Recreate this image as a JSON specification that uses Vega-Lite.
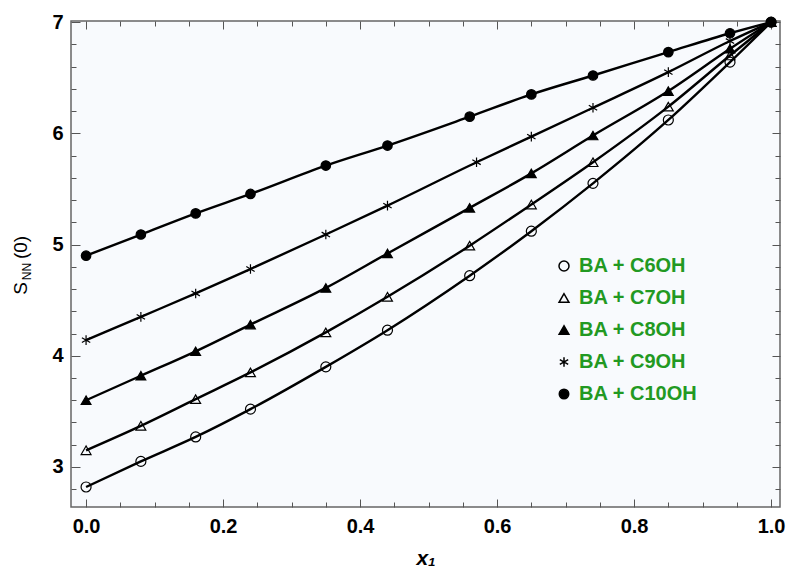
{
  "$schema": "https://vega.github.io/schema/vega-lite/v6.json",
  "width": 709,
  "height": 486,
  "autosize": "none",
  "padding": {"left": 71, "top": 21, "right": 10, "bottom": 65},
  "background": "white",
  "config": {
    "view": {"fill": "#f8fafd", "stroke": "#666666", "strokeWidth": 1.5},
    "axis": {
      "domain": false,
      "grid": false,
      "tickColor": "#555555",
      "tickWidth": 1,
      "labelFont": "Liberation Sans",
      "labelFontWeight": "bold",
      "labelFontSize": 20,
      "labelColor": "black",
      "titleFont": "Liberation Sans",
      "titleColor": "black"
    },
    "legend": {
      "orient": "none", "legendX": 483, "legendY": 235, "padding": 0,
      "labelFont": "Liberation Sans", "labelFontWeight": "bold", "labelFontSize": 20,
      "labelColor": "#229922", "labelOffset": 5, "rowPadding": 12, "labelLimit": 300
    }
  },
  "data": {
    "values": [
      {"series": "BA + C6OH", "x1": 0.0, "s": 2.82},
      {"series": "BA + C6OH", "x1": 0.08, "s": 3.05},
      {"series": "BA + C6OH", "x1": 0.16, "s": 3.27},
      {"series": "BA + C6OH", "x1": 0.24, "s": 3.52},
      {"series": "BA + C6OH", "x1": 0.35, "s": 3.9},
      {"series": "BA + C6OH", "x1": 0.44, "s": 4.23},
      {"series": "BA + C6OH", "x1": 0.56, "s": 4.72},
      {"series": "BA + C6OH", "x1": 0.65, "s": 5.12},
      {"series": "BA + C6OH", "x1": 0.74, "s": 5.55},
      {"series": "BA + C6OH", "x1": 0.85, "s": 6.12},
      {"series": "BA + C6OH", "x1": 0.94, "s": 6.64},
      {"series": "BA + C6OH", "x1": 1.0, "s": 7.0},
      {"series": "BA + C7OH", "x1": 0.0, "s": 3.15},
      {"series": "BA + C7OH", "x1": 0.08, "s": 3.37},
      {"series": "BA + C7OH", "x1": 0.16, "s": 3.61},
      {"series": "BA + C7OH", "x1": 0.24, "s": 3.85},
      {"series": "BA + C7OH", "x1": 0.35, "s": 4.21},
      {"series": "BA + C7OH", "x1": 0.44, "s": 4.53},
      {"series": "BA + C7OH", "x1": 0.56, "s": 4.99},
      {"series": "BA + C7OH", "x1": 0.65, "s": 5.36},
      {"series": "BA + C7OH", "x1": 0.74, "s": 5.74},
      {"series": "BA + C7OH", "x1": 0.85, "s": 6.24},
      {"series": "BA + C7OH", "x1": 0.94, "s": 6.7},
      {"series": "BA + C7OH", "x1": 1.0, "s": 7.0},
      {"series": "BA + C8OH", "x1": 0.0, "s": 3.6},
      {"series": "BA + C8OH", "x1": 0.08, "s": 3.82},
      {"series": "BA + C8OH", "x1": 0.16, "s": 4.04},
      {"series": "BA + C8OH", "x1": 0.24, "s": 4.28},
      {"series": "BA + C8OH", "x1": 0.35, "s": 4.61},
      {"series": "BA + C8OH", "x1": 0.44, "s": 4.92},
      {"series": "BA + C8OH", "x1": 0.56, "s": 5.33},
      {"series": "BA + C8OH", "x1": 0.65, "s": 5.64},
      {"series": "BA + C8OH", "x1": 0.74, "s": 5.98},
      {"series": "BA + C8OH", "x1": 0.85, "s": 6.38},
      {"series": "BA + C8OH", "x1": 0.94, "s": 6.76},
      {"series": "BA + C8OH", "x1": 1.0, "s": 7.0},
      {"series": "BA + C9OH", "x1": 0.0, "s": 4.14},
      {"series": "BA + C9OH", "x1": 0.08, "s": 4.35},
      {"series": "BA + C9OH", "x1": 0.16, "s": 4.56},
      {"series": "BA + C9OH", "x1": 0.24, "s": 4.78},
      {"series": "BA + C9OH", "x1": 0.35, "s": 5.09},
      {"series": "BA + C9OH", "x1": 0.44, "s": 5.35},
      {"series": "BA + C9OH", "x1": 0.57, "s": 5.74},
      {"series": "BA + C9OH", "x1": 0.65, "s": 5.97},
      {"series": "BA + C9OH", "x1": 0.74, "s": 6.23},
      {"series": "BA + C9OH", "x1": 0.85, "s": 6.55},
      {"series": "BA + C9OH", "x1": 0.94, "s": 6.83},
      {"series": "BA + C9OH", "x1": 1.0, "s": 7.0},
      {"series": "BA + C10OH", "x1": 0.0, "s": 4.9},
      {"series": "BA + C10OH", "x1": 0.08, "s": 5.09},
      {"series": "BA + C10OH", "x1": 0.16, "s": 5.28},
      {"series": "BA + C10OH", "x1": 0.24, "s": 5.455},
      {"series": "BA + C10OH", "x1": 0.35, "s": 5.71},
      {"series": "BA + C10OH", "x1": 0.44, "s": 5.89},
      {"series": "BA + C10OH", "x1": 0.56, "s": 6.15},
      {"series": "BA + C10OH", "x1": 0.65, "s": 6.35},
      {"series": "BA + C10OH", "x1": 0.74, "s": 6.52},
      {"series": "BA + C10OH", "x1": 0.85, "s": 6.73},
      {"series": "BA + C10OH", "x1": 0.94, "s": 6.9},
      {"series": "BA + C10OH", "x1": 1.0, "s": 7.0}
    ]
  },
  "resolve": {"axis": {"x": "independent", "y": "independent"}},
  "layer": [
    {
      "mark": {"type": "line", "color": "black", "strokeWidth": 2.4, "interpolate": "monotone"},
      "encoding": {
        "x": {
          "field": "x1", "type": "quantitative",
          "scale": {"domain": [-0.022, 1.013], "nice": false, "zero": false},
          "axis": {
            "orient": "bottom", "values": [0, 0.2, 0.4, 0.6, 0.8, 1.0], "format": ".1f",
            "tickSize": -8, "labelPadding": 17,
            "title": "x₁", "titleFontSize": 21, "titleFontStyle": "italic", "titleFontWeight": "bold",
            "titleX": 354.5, "titleY": 51, "titleAlign": "center", "titleBaseline": "middle"
          }
        },
        "y": {
          "field": "s", "type": "quantitative",
          "scale": {"domain": [2.64, 7.01], "nice": false, "zero": false},
          "axis": {
            "orient": "left", "values": [3, 4, 5, 6, 7], "format": "d",
            "tickSize": -9, "labelPadding": 17,
            "title": "S", "titleFontSize": 19, "titleFontWeight": "normal", "titleAngle": 270,
            "titleX": -51, "titleY": 267, "titleAlign": "center", "titleBaseline": "middle"
          }
        },
        "detail": {"field": "series"},
        "order": {"field": "x1"}
      }
    },
    {
      "mark": {"type": "point", "stroke": "black", "strokeWidth": 1.2, "opacity": 1},
      "encoding": {
        "x": {
          "field": "x1", "type": "quantitative",
          "axis": {
            "orient": "bottom", "labels": false, "tickSize": -5, "title": null,
            "values": [0.05, 0.1, 0.15, 0.25, 0.3, 0.35, 0.45, 0.5, 0.55, 0.65, 0.7, 0.75, 0.85, 0.9, 0.95]
          }
        },
        "y": {
          "field": "s", "type": "quantitative",
          "axis": {
            "orient": "left", "labels": false, "tickSize": -5,
            "values": [2.8, 3.2, 3.4, 3.6, 3.8, 4.2, 4.4, 4.6, 4.8, 5.2, 5.4, 5.6, 5.8, 6.2, 6.4, 6.6, 6.8],
            "title": "NN", "titleFontSize": 12, "titleFontWeight": "normal", "titleAngle": 270,
            "titleX": -45, "titleY": 250, "titleAlign": "center", "titleBaseline": "middle"
          }
        },
        "shape": {
          "field": "series", "type": "nominal", "title": null,
          "scale": {
            "domain": ["BA + C6OH", "BA + C7OH", "BA + C8OH", "BA + C9OH", "BA + C10OH"],
            "range": ["circle", "triangle-up", "triangle-up", "M0,-1L0,1M-0.87,-0.5L0.87,0.5M-0.87,0.5L0.87,-0.5", "circle"]
          },
          "legend": {
            "encode": {
              "symbols": {"update": {"stroke": {"value": "#333333"}, "strokeWidth": {"value": 1.2}}}
            }
          }
        },
        "fill": {
          "field": "series", "type": "nominal", "title": null,
          "scale": {
            "domain": ["BA + C6OH", "BA + C7OH", "BA + C8OH", "BA + C9OH", "BA + C10OH"],
            "range": ["transparent", "transparent", "black", "transparent", "black"]
          }
        },
        "size": {
          "field": "series", "type": "nominal", "title": null,
          "scale": {
            "domain": ["BA + C6OH", "BA + C7OH", "BA + C8OH", "BA + C9OH", "BA + C10OH"],
            "range": [100, 90, 90, 120, 170]
          }
        }
      }
    },
    {
      "mark": {"type": "point", "opacity": 0},
      "encoding": {
        "x": {
          "field": "x1", "type": "quantitative",
          "axis": {"orient": "top", "labels": false, "tickSize": -8, "title": null, "values": [0, 0.2, 0.4, 0.6, 0.8, 1.0]}
        },
        "y": {
          "field": "s", "type": "quantitative",
          "axis": {
            "orient": "right", "labels": false, "tickSize": -8, "values": [3, 4, 5, 6, 7],
            "title": "(0)", "titleFontSize": 19, "titleFontWeight": "normal", "titleAngle": 270,
            "titleX": -760, "titleY": 226, "titleAlign": "center", "titleBaseline": "middle"
          }
        }
      }
    },
    {
      "mark": {"type": "point", "opacity": 0},
      "encoding": {
        "x": {
          "field": "x1", "type": "quantitative",
          "axis": {
            "orient": "top", "labels": false, "tickSize": -5, "title": null,
            "values": [0.05, 0.1, 0.15, 0.25, 0.3, 0.35, 0.45, 0.5, 0.55, 0.65, 0.7, 0.75, 0.85, 0.9, 0.95]
          }
        },
        "y": {
          "field": "s", "type": "quantitative",
          "axis": {
            "orient": "right", "labels": false, "tickSize": -5, "title": null,
            "values": [2.8, 3.2, 3.4, 3.6, 3.8, 4.2, 4.4, 4.6, 4.8, 5.2, 5.4, 5.6, 5.8, 6.2, 6.4, 6.6, 6.8]
          }
        }
      }
    }
  ]
}
